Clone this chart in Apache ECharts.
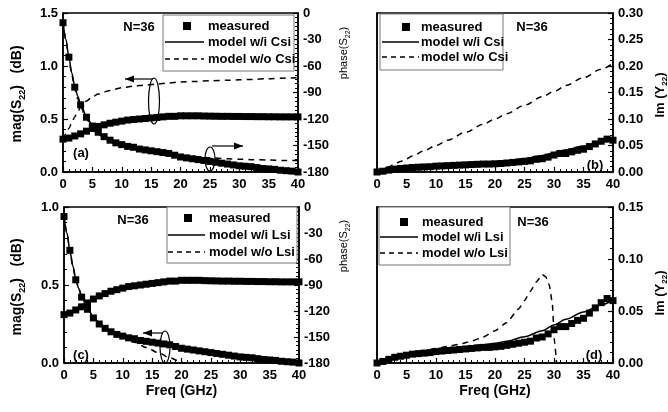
<!DOCTYPE html>
<html><head><meta charset="utf-8">
<script src="https://cdn.jsdelivr.net/npm/echarts@6/dist/echarts.min.js"></script>
<style>html,body{margin:0;padding:0;background:#fff}#c{width:668px;height:412px}</style>
</head><body><div id="c"></div>
<script>
// ---------- data ----------
const freq = [0,1,2,3,4,5,6,7,8,9,10,11,12,13,14,15,16,17,18,19,20,21,22,23,24,25,26,27,28,29,30,31,32,33,34,35,36,37,38,39,40];
const measMag = [0.31,0.32,0.34,0.36,0.385,0.41,0.43,0.445,0.46,0.47,0.48,0.49,0.495,0.50,0.505,0.51,0.515,0.52,0.525,0.525,0.53,0.53,0.53,0.53,0.528,0.527,0.526,0.525,0.525,0.524,0.524,0.523,0.523,0.522,0.522,0.521,0.521,0.52,0.52,0.52,0.52];
const measPhase = [-11,-50,-84,-104,-118,-128,-135,-140,-144,-147,-149,-151,-152,-154,-155,-156,-157,-158,-159,-161,-163,-164,-165,-166,-167,-168,-169,-170,-171,-172,-173,-173.5,-174,-175,-176,-176.5,-177,-178,-178.5,-179,-180];
const measIm = [0,0.0015,0.0035,0.0055,0.0065,0.0075,0.0085,0.009,0.0095,0.010,0.011,0.0115,0.012,0.0125,0.013,0.0135,0.014,0.0145,0.015,0.015,0.0155,0.016,0.017,0.018,0.019,0.020,0.021,0.024,0.025,0.028,0.032,0.035,0.035,0.038,0.041,0.043,0.048,0.053,0.058,0.062,0.060];

const modelFreq = [0,0.5,1,1.5,2,2.5,3,4,5,6,7,8,10,12,14,16,18,20,22,25,28,30,32,35,38,40];
const modelMag = [0.31,0.315,0.325,0.335,0.345,0.357,0.37,0.39,0.41,0.43,0.445,0.46,0.48,0.495,0.505,0.515,0.522,0.527,0.528,0.527,0.525,0.524,0.523,0.522,0.521,0.52];
const modelPhase = [-9,-30,-50,-68,-83,-94,-103,-117,-127,-134,-139,-143,-149,-153,-156,-158.5,-160.5,-162.5,-164.5,-167.5,-170.5,-172,-174,-176,-178.5,-180];
const noCsiMag = [0.31,0.36,0.41,0.465,0.52,0.57,0.61,0.67,0.71,0.735,0.755,0.77,0.795,0.81,0.82,0.83,0.84,0.85,0.853,0.86,0.865,0.87,0.873,0.88,0.886,0.89];
const noCsiPhase = [-10,-31,-52,-70,-86,-97,-106,-120,-130,-137,-142,-146,-151,-154,-156.5,-158.5,-160,-161.5,-162.5,-164,-165,-165.5,-166,-166.5,-167,-167];
const noLsiMag = [0.31,0.315,0.325,0.335,0.345,0.357,0.37,0.39,0.41,0.43,0.445,0.46,0.48,0.495,0.505,0.515,0.522,0.527,0.528,0.527,0.525,0.524,0.523,0.522,0.521,0.52];
const noLsiPhaseFreq = [0,0.5,1,1.5,2,2.5,3,4,5,6,7,8,10,12,14,16,18,20,21,22];
const noLsiPhase = [-9,-30,-50,-68,-83,-94,-103,-117,-127,-134,-139,-144,-151,-156,-162,-168,-174,-179,-182,-185];

const imFreq = [0,1,2,3,4,5,6,8,10,12,15,18,20,22,25,28,30,32,35,38,40];
const modelIm = [0,0.003,0.005,0.0065,0.0078,0.0088,0.0097,0.011,0.0125,0.014,0.0157,0.0175,0.019,0.021,0.0253,0.031,0.0365,0.042,0.049,0.056,0.0606];
const noCsiIm = [0,0.005,0.01,0.015,0.02,0.025,0.03,0.04,0.05,0.06,0.075,0.09,0.10,0.11,0.126,0.142,0.152,0.163,0.178,0.194,0.205];
const noLsiImFreq = [0,2,4,6,8,10,12,14,16,18,20,22,24,25,26,27,28,28.6,29.2,29.7,30.1,30.5];
const noLsiIm = [0,0.0045,0.008,0.0105,0.012,0.014,0.016,0.018,0.021,0.025,0.031,0.039,0.052,0.060,0.069,0.078,0.085,0.083,0.075,0.058,0.02,-0.005];

const legendA = ['measured','model w/i Csi','model w/o Csi'];
const legendC = ['measured','model w/i Lsi','model w/o Lsi'];
const panelTags = ['(a)','(b)','(c)','(d)'];
const nLabel = 'N=36';

// ---------- chart ----------
const FONT = '"Liberation Sans", Arial, sans-serif';
const chart = echarts.init(document.getElementById('c'));
const pairs = (xs, ys) => xs.map((x, i) => [x, ys[i]]);
const lblStyle = {color:'#000', fontFamily:FONT, fontWeight:'bold', fontSize:13};

function xAx(gi, named) {
  return {type:'value', gridIndex:gi, min:0, max:40, interval:5,
    axisLine:{show:true, onZero:false, lineStyle:{color:'#000', width:1.5}},
    axisTick:{show:true, inside:true, length:5, lineStyle:{color:'#000', width:1.2}},
    minorTick:{show:true, splitNumber:5, length:3, lineStyle:{color:'#000', width:1}},
    splitLine:{show:false}, minorSplitLine:{show:false},
    axisLabel:Object.assign({margin:6}, lblStyle),
    name: named ? 'Freq (GHz)' : '', nameLocation:'middle', nameGap:21,
    nameTextStyle:{color:'#000', fontFamily:FONT, fontWeight:'bold', fontSize:14}};
}
function yAx(gi, pos, min, max, interval, minor, dec, show) {
  return {type:'value', gridIndex:gi, position:pos, min, max, interval,
    axisLine:{show:true, onZero:false, lineStyle:{color:'#000', width:1.5}},
    axisTick:{show:show, inside:true, length:5, lineStyle:{color:'#000', width:1.2}},
    minorTick:{show:show, splitNumber:minor, length:3, lineStyle:{color:'#000', width:1}},
    splitLine:{show:false}, minorSplitLine:{show:false},
    axisLabel:Object.assign({show:show, margin:5, formatter:v => dec === null ? String(v) : v.toFixed(dec)}, lblStyle)};
}
function sc(name, xi, yi, xs, ys) {
  return {name, type:'scatter', xAxisIndex:xi, yAxisIndex:yi, symbol:'rect', symbolSize:7,
    itemStyle:{color:'#000', opacity:1}, data:pairs(xs, ys), z:4};
}
function ln(name, xi, yi, xs, ys, dashed, smooth) {
  return {name, type:'line', xAxisIndex:xi, yAxisIndex:yi, symbol:'none', showSymbol:false,
    smooth: smooth === undefined ? 0.3 : smooth, smoothMonotone:'x', clip:true,
    lineStyle:{color:'#000', width:1.5, type: dashed ? [6,5] : 'solid'}, data:pairs(xs, ys), z:3};
}

const grids = [
  {left:63, top:13, width:235, height:159},
  {left:377, top:13, width:236, height:159},
  {left:64, top:207, width:235, height:156},
  {left:377, top:207, width:236, height:156}
].map(g => Object.assign({show:true, borderColor:'#000', borderWidth:1.5, backgroundColor:'transparent'}, g));

// ---------- graphics (legends, labels, annotations) ----------
const G = [];
function txt(x, y, text, size, weight, extra) {
  G.push(Object.assign({type:'text', x, y, z:50, style:{text, fill:'#000', fontFamily:FONT, fontSize:size, fontWeight:weight||'bold', align:'center', verticalAlign:'middle'}}, extra||{}));
}
function legend(box, rows, lx0, lx1, sqx, tx, labels) {
  G.push({type:'rect', z:40, shape:{x:box[0], y:box[1], width:box[2], height:box[3]}, style:{fill:'#fff', stroke:'#777', lineWidth:1}});
  G.push({type:'rect', z:41, shape:{x:sqx-4, y:rows[0]-4, width:8, height:8}, style:{fill:'#000'}});
  G.push({type:'line', z:41, shape:{x1:lx0, y1:rows[1], x2:lx1, y2:rows[1]}, style:{stroke:'#000', lineWidth:1.5}});
  G.push({type:'line', z:41, shape:{x1:lx0, y1:rows[2], x2:lx1, y2:rows[2]}, style:{stroke:'#000', lineWidth:1.5, lineDash:[5,4]}});
  labels.forEach((t, i) => G.push({type:'text', x:tx, y:rows[i], z:42, style:{text:t, fill:'#000', fontFamily:FONT, fontSize:13, fontWeight:'bold', align:'left', verticalAlign:'middle'}}));
}
legend([163,15,131,56],[26,42,59],165,204,187,208,legendA);
legend([380,14,123,56],[27,42,57],382,419,406,421,legendA);
legend([167,207,130,56],[218,235,252],168,205,188,209,legendC);
legend([379,207,131,58],[222,237,253],380,418,404,422,legendC);

txt(139,27,nLabel,13); txt(532,27,nLabel,13); txt(133,220,nLabel,13); txt(533,222,nLabel,13);
txt(81,153,panelTags[0],13); txt(595,165,panelTags[1],13); txt(81,355,panelTags[2],13); txt(594,355,panelTags[3],13);

function richTitle(x, y, pre, sub, post, size, weight) {
  G.push({type:'text', x, y, rotation:Math.PI/2, z:50, style:{
    text:'{t|' + pre + '}{s|' + sub + '}{t|' + post + '}', align:'center', verticalAlign:'middle', fill:'#000',
    rich:{t:{fontFamily:FONT, fontSize:size, fontWeight:weight, fill:'#000', lineHeight:size+2, verticalAlign:'top'},
          s:{fontFamily:FONT, fontSize:Math.round(size*0.65), fontWeight:weight, fill:'#000', lineHeight:Math.round(size*0.7), padding:[Math.round(size*0.55),0,0,0], verticalAlign:'top'}}}});
}
richTitle(18,94,'mag(S','22',')   (dB)',14,'bold');
richTitle(18,287,'mag(S','22',')   (dB)',14,'bold');
richTitle(345,53,'phase(S','22',')',11,'normal');
richTitle(345,246,'phase(S','22',')',11,'normal');
richTitle(661,95,'Im (Y','22',')',13,'bold');
richTitle(661,293,'Im (Y','22',')',13,'bold');

function arrow(x1, y1, x2, y2) {
  G.push({type:'line', z:45, shape:{x1, y1, x2, y2}, style:{stroke:'#000', lineWidth:1.2}});
  const dx = x2 - x1, dy = y2 - y1, L = Math.hypot(dx, dy), ux = dx/L, uy = dy/L;
  G.push({type:'polygon', z:45, shape:{points:[[x2,y2],[x2-9*ux-3.5*uy, y2-9*uy+3.5*ux],[x2-9*ux+3.5*uy, y2-9*uy-3.5*ux]]}, style:{fill:'#000'}});
}
function ell(cx, cy, rx, ry) {
  G.push({type:'ellipse', z:45, shape:{cx, cy, rx, ry}, style:{fill:'none', stroke:'#000', lineWidth:1.2}});
}
ell(154,101,5.5,23); arrow(153,79,125,79);
ell(210,159,5,12); arrow(212,146,243,146);
ell(165,347,5,16); arrow(163,333,143,333);

chart.setOption({
  animation:false,
  backgroundColor:'#fff',
  grid:grids,
  xAxis:[xAx(0,false), xAx(1,false), xAx(2,true), xAx(3,true)],
  yAxis:[
    yAx(0,'left',0,1.5,0.5,5,1,true),
    yAx(0,'right',-180,0,30,6,null,true),
    yAx(1,'left',0,1,0.5,5,1,false),
    yAx(1,'right',0,0.3,0.05,5,2,true),
    yAx(2,'left',0,1,0.5,5,1,true),
    yAx(2,'right',-180,0,30,6,null,true),
    yAx(3,'left',0,1,0.5,5,1,false),
    yAx(3,'right',0,0.15,0.05,5,2,true)
  ],
  series:[
    // (a)
    ln(legendA[2],0,0,modelFreq,noCsiMag,true),
    ln(legendA[2],0,1,modelFreq,noCsiPhase,true),
    ln(legendA[1],0,0,modelFreq,modelMag,false),
    ln(legendA[1],0,1,modelFreq,modelPhase,false),
    sc(legendA[0],0,0,freq,measMag),
    sc(legendA[0],0,1,freq,measPhase),
    // (b)
    ln(legendA[2],1,3,imFreq,noCsiIm,true),
    ln(legendA[1],1,3,imFreq,modelIm,false),
    sc(legendA[0],1,3,freq,measIm),
    // (c)
    ln(legendC[2],2,4,modelFreq,noLsiMag,true),
    ln(legendC[2],2,5,noLsiPhaseFreq,noLsiPhase,true),
    ln(legendC[1],2,4,modelFreq,modelMag,false),
    ln(legendC[1],2,5,modelFreq,modelPhase,false),
    sc(legendC[0],2,4,freq,measMag),
    sc(legendC[0],2,5,freq,measPhase),
    // (d)
    ln(legendC[2],3,7,noLsiImFreq,noLsiIm,true,0.15),
    ln(legendC[1],3,7,imFreq,modelIm,false),
    sc(legendC[0],3,7,freq,measIm)
  ],
  graphic:G
});
</script></body></html>
